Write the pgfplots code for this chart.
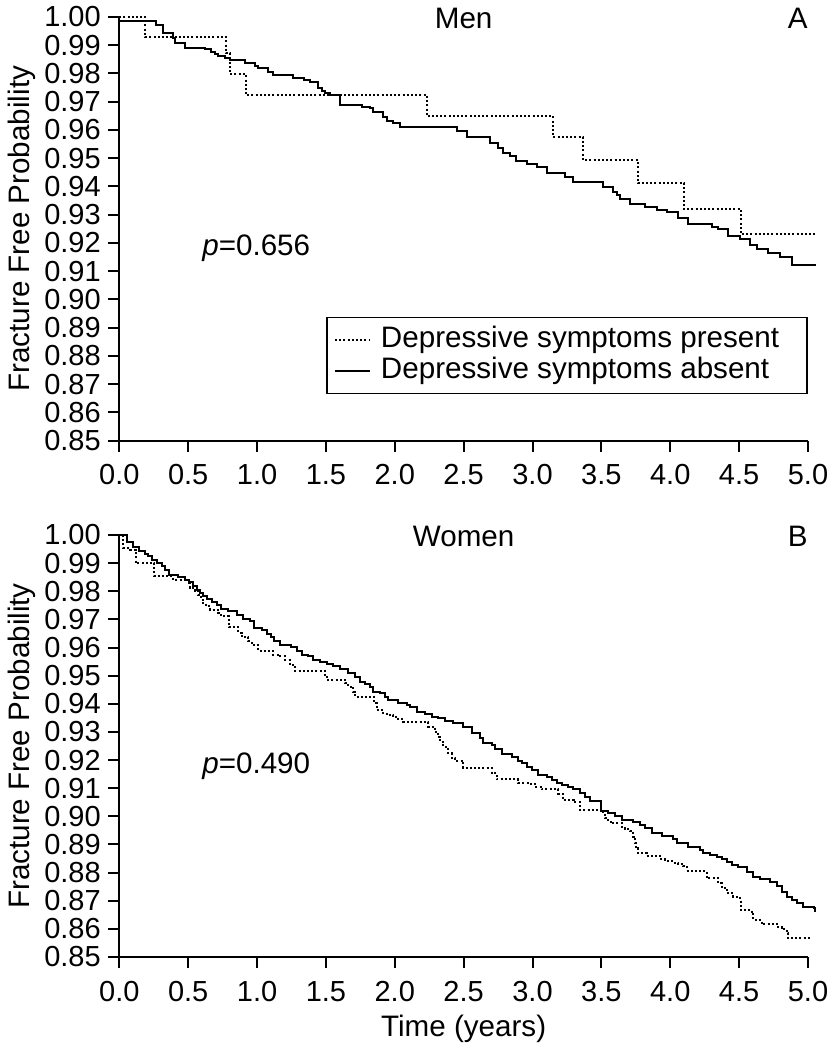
\documentclass[border=0pt]{standalone}
\usepackage{fontspec}
\setmainfont{Liberation Sans}
\usepackage{pgfplots}
\pgfplotsset{compat=1.18}
\newcommand{\fs}{\fontsize{14.5}{17.4}\selectfont}
\newcommand{\fsl}{\fontsize{14.8}{17.8}\selectfont}
\pgfplotsset{
  km/.style={
    width=344.35pt, scale only axis,
    xmin=0, xmax=5, ymin=0.85, ymax=1.0,
    enlargelimits=false, clip=false,
    axis lines=left,
    axis line style={-, line width=1pt, black},
    tick align=outside,
    major tick length=5.5pt,
    tick style={line width=1pt, black},
    xtick={0,0.5,1,1.5,2,2.5,3,3.5,4,4.5,5},
    xticklabels={0.0,0.5,1.0,1.5,2.0,2.5,3.0,3.5,4.0,4.5,5.0},
    ytick={0.85,0.86,0.87,0.88,0.89,0.90,0.91,0.92,0.93,0.94,0.95,0.96,0.97,0.98,0.99,1.00},
    yticklabels={0.85,0.86,0.87,0.88,0.89,0.90,0.91,0.92,0.93,0.94,0.95,0.96,0.97,0.98,0.99,1.00},
    tick label style={font=\fs},
    xticklabel style={anchor=north, inner sep=0pt, text height=10.5pt, text depth=0pt, yshift=-6pt},
    yticklabel style={anchor=east, inner sep=0pt, xshift=-3.6pt},
    ylabel={Fracture Free Probability},
    ylabel style={at={(axis description cs:-0.1297,0.5)}, anchor=base, inner sep=0pt, font=\fsl},
  },
  present/.style={const plot, line width=1pt, dash pattern=on 1pt off 1.1pt, black},
  absent/.style={const plot, line width=1pt, black},
}
\begin{document}
\fs
\begin{tikzpicture}
\useasboundingbox (0,0) rectangle (415.5pt,-525pt);
% ---------------- Panel A: Men ----------------
\begin{axis}[km, height=211.75pt, at={(59.65pt,-220.25pt)}, anchor=south west,
  legend style={at={(rel axis cs:1,0.109)}, anchor=south east, draw=black, line width=0.9pt,
    fill=white, inner xsep=3.5pt, inner ysep=4.3pt, row sep=2.1pt, font=\fsl,
    nodes={inner sep=0pt, text depth=0.21em, text height=0.73em}},
  legend cell align=left,
  legend image code/.code={\draw[#1] (0pt,0pt) -- (17.5pt,0pt); \path (22.5pt,0pt);},
]
\addplot[present] coordinates {
(0,1.000) (0.19,0.9928) (0.775,0.9871) (0.804,0.9798) (0.918,0.9724)
(2.232,0.9649) (3.151,0.9574) (3.369,0.9493) (3.764,0.9411) (4.100,0.9319)
(4.514,0.9230) (5.058,0.9230)};
\addlegendentry{Depressive symptoms present\rule{10.5pt}{0pt}}
\addplot[absent] coordinates {
(0,0.9987) (0.266,0.9972) (0.320,0.9944) (0.387,0.9925) (0.404,0.9907) (0.477,0.9891)
(0.622,0.9886) (0.664,0.9877) (0.695,0.9869) (0.719,0.9862) (0.767,0.9854) (0.804,0.9848)
(0.913,0.9836) (0.985,0.9826) (1.009,0.9818) (1.082,0.9806) (1.118,0.9795) (1.259,0.9783)
(1.341,0.9777) (1.384,0.9769) (1.445,0.9747) (1.469,0.9739) (1.493,0.9730) (1.530,0.9724)
(1.602,0.9688) (1.760,0.9682) (1.820,0.9677) (1.844,0.9665) (1.917,0.9647) (1.941,0.9633)
(1.989,0.9626) (2.038,0.9611) (2.449,0.9597) (2.522,0.9576) (2.691,0.9555) (2.752,0.9535)
(2.788,0.9517) (2.837,0.9508) (2.880,0.9491) (2.958,0.9478) (3.030,0.9470) (3.103,0.9448)
(3.236,0.9434) (3.296,0.9417) (3.514,0.9397) (3.586,0.9381) (3.611,0.9369) (3.635,0.9355)
(3.708,0.9338) (3.817,0.9328) (3.901,0.9316) (3.974,0.9308) (4.058,0.9287) (4.131,0.9267)
(4.301,0.9257) (4.349,0.9248) (4.421,0.9225) (4.506,0.9213) (4.579,0.9192) (4.628,0.9177)
(4.712,0.9165) (4.797,0.9151) (4.882,0.9121) (5.058,0.9121)};
\addlegendentry{Depressive symptoms absent}
\node[anchor=base, inner sep=0pt, font=\fsl] at (rel axis cs:0.5,1) [yshift=-5.5pt] {Men};
\node[anchor=base east, inner sep=0pt, font=\fsl] at (rel axis cs:1,1) [yshift=-5.5pt] {A};
\node[anchor=base west, inner sep=0pt, font=\fsl] at (axis cs:0.6,0.9157) {\textit{p}=0.656};
\end{axis}
% ---------------- Panel B: Women ----------------
\begin{axis}[km, height=211pt, at={(59.65pt,-478.5pt)}, anchor=south west,
  xlabel={Time (years)},
  xlabel style={at={(axis description cs:0.5,-0.1872)}, anchor=base, inner sep=0pt, font=\fsl},
]
\addplot[present] coordinates {
(0,1.000) (0.03,0.9954) (0.078,0.9948) (0.119,0.9900) (0.254,0.9853) (0.392,0.9841)
(0.506,0.9829) (0.513,0.9812) (0.550,0.9800) (0.574,0.9788) (0.593,0.9770) (0.610,0.9758)
(0.627,0.9747) (0.658,0.9735) (0.719,0.9723) (0.738,0.9711) (0.796,0.9672) (0.864,0.9652)
(0.888,0.9636) (0.937,0.9622) (0.961,0.9608) (1.009,0.9589) (1.118,0.9574) (1.154,0.9569)
(1.203,0.9557) (1.239,0.9539) (1.276,0.9518) (1.493,0.9496) (1.518,0.9485) (1.639,0.9473)
(1.663,0.9461) (1.699,0.9443) (1.711,0.9425) (1.850,0.9402) (1.869,0.9378) (1.917,0.9368)
(1.941,0.9360) (1.989,0.9352) (2.026,0.9345) (2.062,0.9336) (2.243,0.9319) (2.292,0.9301)
(2.316,0.9283) (2.328,0.9265) (2.352,0.9247) (2.389,0.9224) (2.413,0.9206) (2.437,0.9198)
(2.486,0.9188) (2.497,0.9171) (2.704,0.9153) (2.740,0.9131) (2.897,0.9119) (2.969,0.9115)
(3.018,0.9105) (3.067,0.9096) (3.187,0.9080) (3.224,0.9058) (3.300,0.9050) (3.345,0.9022)
(3.514,0.9011) (3.526,0.8993) (3.550,0.8981) (3.575,0.8975) (3.647,0.8961) (3.671,0.8954)
(3.708,0.8949) (3.732,0.8928) (3.744,0.8904) (3.749,0.8886) (3.768,0.8868) (3.829,0.8859)
(3.925,0.8847) (3.962,0.8842) (4.010,0.8835) (4.058,0.8830) (4.095,0.8823) (4.119,0.8807)
(4.265,0.8780) (4.349,0.8762) (4.373,0.8750) (4.397,0.8738) (4.421,0.8726) (4.458,0.8714)
(4.506,0.8708) (4.511,0.8667) (4.591,0.8661) (4.603,0.8631) (4.664,0.8617) (4.773,0.8605)
(4.809,0.8598) (4.845,0.8584) (4.857,0.8566) (5.015,0.8566)};
\addplot[absent] coordinates {
(0,1.000) (0.053,0.9975) (0.102,0.9957) (0.143,0.9942) (0.187,0.9932) (0.211,0.9924)
(0.235,0.9912) (0.271,0.9900) (0.308,0.9889) (0.332,0.9877) (0.361,0.9859) (0.429,0.9850)
(0.477,0.9841) (0.506,0.9833) (0.537,0.9818) (0.562,0.9806) (0.586,0.9794) (0.610,0.9782)
(0.634,0.9774) (0.671,0.9762) (0.707,0.9750) (0.738,0.9738) (0.791,0.9729) (0.852,0.9715)
(0.900,0.9703) (0.949,0.9693) (0.980,0.9669) (1.034,0.9663) (1.070,0.9648) (1.101,0.9636)
(1.125,0.9622) (1.167,0.9608) (1.247,0.9601) (1.288,0.9587) (1.324,0.9574) (1.372,0.9569)
(1.409,0.9557) (1.457,0.9549) (1.506,0.9541) (1.554,0.9533) (1.602,0.9525) (1.663,0.9510)
(1.711,0.9496) (1.748,0.9479) (1.784,0.9470) (1.820,0.9459) (1.844,0.9443) (1.893,0.9437)
(1.929,0.9425) (1.953,0.9413) (2.026,0.9404) (2.087,0.9396) (2.111,0.9387) (2.159,0.9372)
(2.219,0.9364) (2.268,0.9354) (2.316,0.9348) (2.365,0.9340) (2.425,0.9331) (2.497,0.9316)
(2.558,0.9295) (2.619,0.9277) (2.643,0.9262) (2.704,0.9253) (2.728,0.9238) (2.776,0.9221)
(2.849,0.9212) (2.897,0.9198) (2.921,0.9188) (2.958,0.9176) (2.994,0.9165) (3.042,0.9147)
(3.103,0.9139) (3.139,0.9129) (3.176,0.9119) (3.212,0.9111) (3.260,0.9105) (3.296,0.9096)
(3.345,0.9082) (3.381,0.9070) (3.417,0.9054) (3.497,0.9020) (3.550,0.9011) (3.599,0.9001)
(3.647,0.8987) (3.732,0.8981) (3.780,0.8969) (3.817,0.8957) (3.865,0.8942) (3.938,0.8930)
(4.022,0.8918) (4.047,0.8906) (4.131,0.8892) (4.216,0.8880) (4.240,0.8868) (4.289,0.8862)
(4.337,0.8854) (4.373,0.8847) (4.410,0.8839) (4.446,0.8827) (4.494,0.8819) (4.555,0.8803)
(4.603,0.8785) (4.652,0.8776) (4.724,0.8768) (4.773,0.8752) (4.809,0.8732) (4.845,0.8714)
(4.882,0.8702) (4.918,0.8691) (4.966,0.8679) (5.046,0.8673) (5.051,0.8661)};
\node[anchor=base, inner sep=0pt, font=\fsl] at (rel axis cs:0.5,1) [yshift=-5.5pt] {Women};
\node[anchor=base east, inner sep=0pt, font=\fsl] at (rel axis cs:1,1) [yshift=-5.5pt] {B};
\node[anchor=base west, inner sep=0pt, font=\fsl] at (axis cs:0.6,0.9154) {\textit{p}=0.490};
\end{axis}
\end{tikzpicture}
\end{document}
